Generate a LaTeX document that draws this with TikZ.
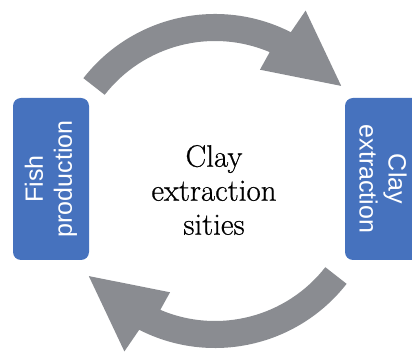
\documentclass[tikz,border=0pt]{standalone}
\usepackage{fontspec}
\newfontfamily\boxfont{Liberation Sans}
\newfontfamily\centerfont[FakeBold=0.6]{Latin Modern Roman}
\usetikzlibrary{positioning, calc}
\definecolor{boxblue}{RGB}{70,114,190}
\definecolor{arrowgray}{RGB}{138,140,145}
\tikzset{
    stage/.style={rectangle, rounded corners=8pt, fill=boxblue, text=white,
      minimum width=162pt, minimum height=76pt, align=center,
      font=\boxfont\fontsize{25}{29}\selectfont},
    cyclearrow/.style={fill=arrowgray, draw=none},
}

\begin{document}
\begin{tikzpicture}[x=1pt, y=1pt]
    \useasboundingbox (0,0) rectangle (412,353);

    \coordinate (c) at (215,172);

    \node[stage, rotate=90] (fish) at (51,174) {Fish\\production};
    \node[stage, rotate=-90] (clay) at (383,174) {Clay\\extraction};

    \node[align=center, font=\centerfont\fontsize{31}{34}\selectfont] (sites) at (214,163)
      {Clay\\extraction\\sities};

    % upper arrow, fish to clay
    \fill[cyclearrow, shift={(c)}] (142:167) arc[start angle=142, end angle=63, radius=167]
      -- (62:193) -- (37:158) -- (68:120) -- (67:140)
      arc[start angle=67, end angle=142, radius=140] -- cycle;

    % lower arrow, clay to fish
    \fill[cyclearrow, shift={(c)}] (322:167) arc[start angle=322, end angle=243, radius=167]
      -- (242:193) -- (217:158) -- (248:120) -- (247:140)
      arc[start angle=247, end angle=322, radius=140] -- cycle;
\end{tikzpicture}
\end{document}
